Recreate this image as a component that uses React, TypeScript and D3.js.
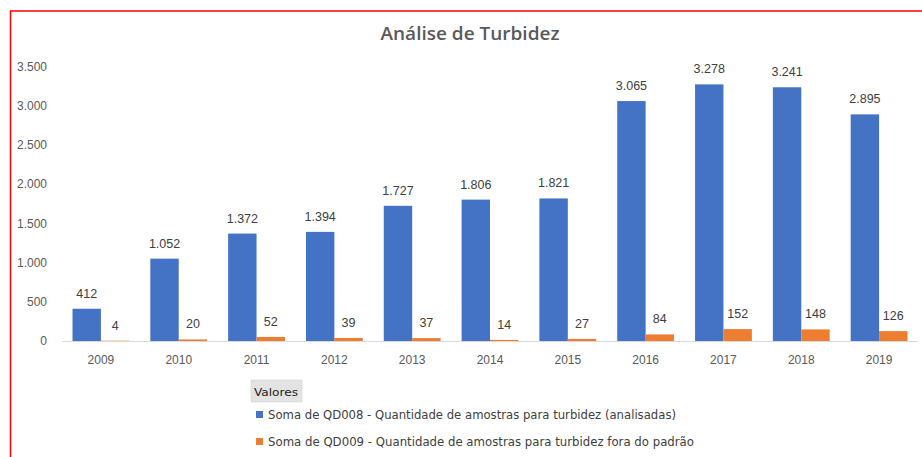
import React, { useEffect, useRef } from 'react';
import * as d3 from 'd3';

const years = ['2009', '2010', '2011', '2012', '2013', '2014', '2015', '2016', '2017', '2018', '2019'];
const analisadas = [412, 1052, 1372, 1394, 1727, 1806, 1821, 3065, 3278, 3241, 2895];
const foraPadrao = [4, 20, 52, 39, 37, 14, 27, 84, 152, 148, 126];
const yTicks = [0, 500, 1000, 1500, 2000, 2500, 3000, 3500];
const seriesNames = [
  'Soma de QD008 - Quantidade de amostras para turbidez (analisadas)',
  'Soma de QD009 - Quantidade de amostras para turbidez fora do padrão',
];
const colors = ['#4472C4', '#ED7D31'];

const fmt = (v: number) => d3.format(',')(v).replace(/,/g, '.');

export default function App() {
  const ref = useRef<SVGSVGElement | null>(null);

  useEffect(() => {
    const svg = d3.select(ref.current);
    svg.selectAll('*').remove();

    const x = d3.scaleBand().domain(years).range([62, 918]).paddingInner(0.27).paddingOuter(0.135);
    const inner = d3.scaleBand().domain(['a', 'b']).range([0, x.bandwidth()]);
    const y = d3.scaleLinear().domain([0, 3500]).range([341, 67]);
    const axisFont = '"Liberation Sans", Arial, sans-serif';

    // red frame
    svg.append('path').attr('d', 'M10.5,457 L10.5,11 L922,11').attr('fill', 'none').attr('stroke', '#ff0000').attr('stroke-width', 1.5);

    svg.append('text').attr('x', 470).attr('y', 40).attr('text-anchor', 'middle')
      .attr('font-family', '"Open Sans", sans-serif').attr('font-size', 18.5).attr('font-weight', 600)
      .attr('fill', '#595959').attr('textLength', 179).attr('lengthAdjust', 'spacingAndGlyphs')
      .text('Análise de Turbidez');

    // y labels
    svg.append('g').selectAll('text').data(yTicks).join('text')
      .attr('x', 47).attr('y', d => y(d) + 4).attr('text-anchor', 'end')
      .attr('font-family', axisFont).attr('font-size', 12).attr('fill', '#595959')
      .text(d => fmt(d));

    const rows = years.map((yr, i) => ({ yr, vals: [analisadas[i], foraPadrao[i]] }));
    const groups = svg.append('g').selectAll('g').data(rows).join('g')
      .attr('transform', d => `translate(${x(d.yr)},0)`);

    groups.selectAll('rect').data(d => d.vals).join('rect')
      .attr('x', (_, j) => inner(j ? 'b' : 'a')!)
      .attr('width', inner.bandwidth())
      .attr('y', d => y(d))
      .attr('height', d => y(0) - y(d))
      .attr('fill', (_, j) => colors[j]);

    groups.selectAll('text.lbl').data(d => d.vals).join('text').attr('class', 'lbl')
      .attr('x', (_, j) => inner(j ? 'b' : 'a')! + inner.bandwidth() / 2)
      .attr('y', d => y(d) - 11).attr('text-anchor', 'middle')
      .attr('font-family', axisFont).attr('font-size', 12.5).attr('fill', '#404040')
      .text(d => fmt(d));

    // baseline
    svg.append('line').attr('x1', 62).attr('x2', 918).attr('y1', 341.5).attr('y2', 341.5)
      .attr('stroke', '#d9d9d9').attr('stroke-width', 1);

    svg.append('g').selectAll('text').data(years).join('text')
      .attr('x', d => x(d)! + x.bandwidth() / 2).attr('y', 364).attr('text-anchor', 'middle')
      .attr('font-family', axisFont).attr('font-size', 12).attr('fill', '#595959')
      .text(d => d);

    // legend
    const legFont = '"DejaVu Sans", Verdana, sans-serif';
    svg.append('rect').attr('x', 251).attr('y', 380).attr('width', 51).attr('height', 22)
      .attr('fill', '#e3e3e3').attr('stroke', '#cfcfcf').attr('stroke-width', 0.5);
    svg.append('text').attr('x', 254).attr('y', 396).attr('font-family', legFont).attr('font-size', 11)
      .attr('fill', '#202020').attr('textLength', 44).attr('lengthAdjust', 'spacingAndGlyphs').text('Valores');

    const leg = svg.append('g').selectAll('g').data(seriesNames).join('g')
      .attr('transform', (_, i) => `translate(0,${i * 27})`);
    leg.append('rect').attr('x', 256).attr('y', 411).attr('width', 7).attr('height', 7).attr('fill', (_, i) => colors[i]);
    leg.append('text').attr('x', 268).attr('y', 419).attr('font-family', legFont).attr('font-size', 11.5)
      .attr('fill', '#404040').attr('textLength', (_, i) => (i ? 426 : 408)).attr('lengthAdjust', 'spacingAndGlyphs')
      .text(d => d);
  }, []);

  return (
    <svg ref={ref} width={922} height={457} style={{ position: 'absolute', left: 0, top: 0, background: '#fff' }} />
  );
}
